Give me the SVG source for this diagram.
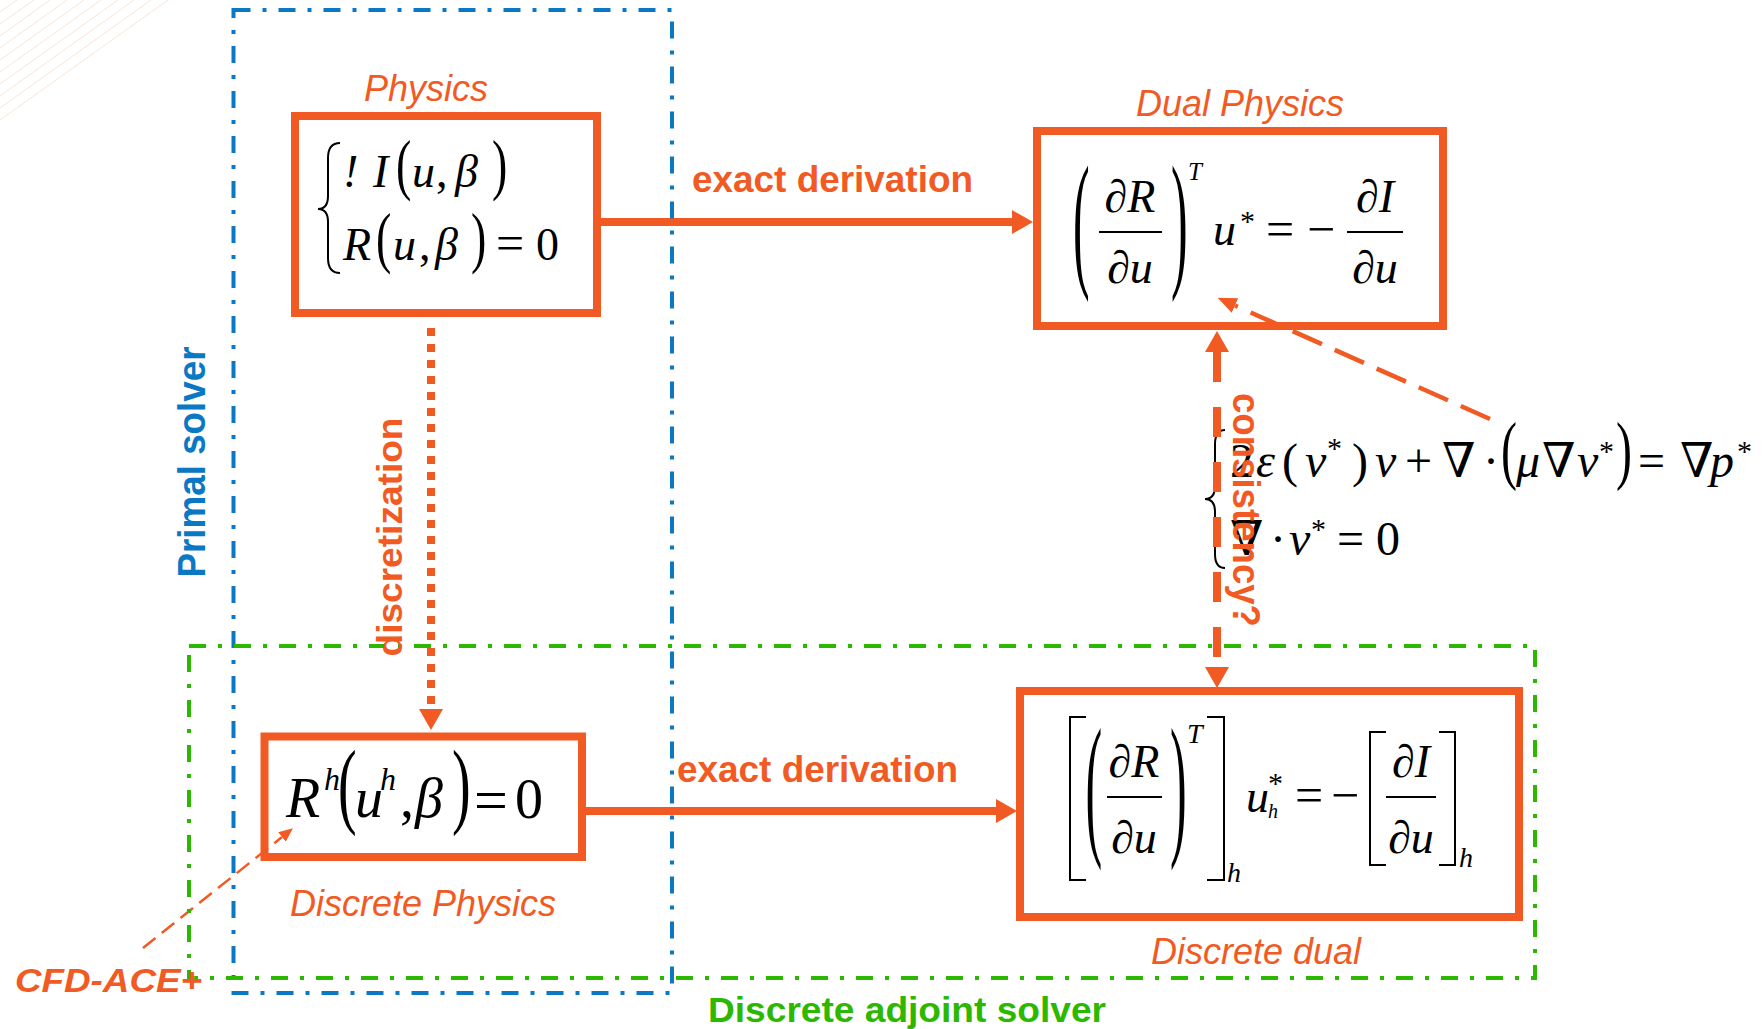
<svg xmlns="http://www.w3.org/2000/svg" width="1762" height="1029" viewBox="0 0 1762 1029">
<style>
.box{fill:#fff;stroke:#F15A22;stroke-width:8}
.lbl{font-family:"Liberation Sans",Arial,sans-serif;font-style:italic;font-size:36px;fill:#F15A22}
.bold{font-family:"Liberation Sans",Arial,sans-serif;font-weight:bold;fill:#F15A22}
.m{font-family:"Liberation Serif","Times New Roman","DejaVu Serif",serif;fill:#000}
.i{font-style:italic}
.dl{fill:none;stroke:#000;stroke-width:2}
.fr{stroke:#000;stroke-width:2}
.blue{fill:none;stroke:#0A78C2;stroke-width:4;stroke-dasharray:17 12 4 12}
.green{fill:none;stroke:#2DB800;stroke-width:4;stroke-dasharray:17 12 4 12}
.con{fill:none;stroke:#F15A22}
.stripe{stroke:#FBE3D6;stroke-width:1}
</style>
<defs>
<marker id="ah" markerUnits="userSpaceOnUse" markerWidth="21" markerHeight="24" viewBox="0 0 21 24" refX="0" refY="12" orient="auto-start-reverse"><path d="M0,0 L21,12 L0,24 Z" fill="#F15A22"/></marker>
<marker id="ahm" markerUnits="userSpaceOnUse" markerWidth="19" markerHeight="16" viewBox="0 0 19 16" refX="0" refY="8" orient="auto"><path d="M0,0 L19,8 L0,16 Z" fill="#F15A22"/></marker>
<marker id="ahs" markerUnits="userSpaceOnUse" markerWidth="14" markerHeight="12" viewBox="0 0 14 12" refX="0" refY="6" orient="auto"><path d="M0,0 L14,6 L0,12 Z" fill="#F15A22"/></marker>
</defs>
<rect width="1762" height="1029" fill="#fff"/>
<g id="stripes">
<line class="stripe" x1="0" y1="12" x2="17" y2="0"/>
<line class="stripe" x1="0" y1="24" x2="34" y2="0"/>
<line class="stripe" x1="0" y1="36" x2="50" y2="0"/>
<line class="stripe" x1="0" y1="48" x2="67" y2="0"/>
<line class="stripe" x1="0" y1="60" x2="84" y2="0"/>
<line class="stripe" x1="0" y1="72" x2="101" y2="0"/>
<line class="stripe" x1="0" y1="84" x2="118" y2="0"/>
<line class="stripe" x1="0" y1="96" x2="134" y2="0"/>
<line class="stripe" x1="0" y1="108" x2="151" y2="0"/>
<line class="stripe" x1="0" y1="120" x2="168" y2="0"/>
</g>
<g id="physics">
<rect class="box" x="295" y="116" width="302" height="197"/>
<text class="lbl" x="426" y="101" text-anchor="middle">Physics</text>
<path class="dl" d="M340,143 Q328,143 328,158 L328,196 Q328,209 318,209 Q328,209 328,222 L328,258 Q328,273 340,273"/>
<g class="m" font-size="46">
<text class="i" x="343" y="187">!</text>
<text class="i" x="373" y="187">I</text>
<text transform="translate(396 187) scale(1 1.46)">(</text>
<text class="i" x="412" y="187">u</text>
<text x="436" y="187">,</text>
<text class="i" x="455" y="187">β</text>
<text transform="translate(492 187) scale(1 1.46)">)</text>
<text class="i" x="343" y="260">R</text>
<text transform="translate(376 260) scale(1 1.46)">(</text>
<text class="i" x="393" y="260">u</text>
<text x="419" y="260">,</text>
<text class="i" x="435" y="260">β</text>
<text transform="translate(471 260) scale(1 1.46)">)</text>
<text x="496" y="260" font-size="50">=</text>
<text x="536" y="260">0</text>
</g>
</g>
<g id="dual-physics">
<rect class="box" x="1037" y="131" width="406" height="195"/>
<text class="lbl" x="1240" y="116" text-anchor="middle">Dual Physics</text>
<g class="m" font-size="46">
<text font-size="50" transform="translate(1073 270) scale(1 3.02)">(</text>
<text class="i" x="1130" y="212" text-anchor="middle">∂R</text>
<line class="fr" x1="1099" y1="232" x2="1162" y2="232"/>
<text class="i" x="1130" y="283" text-anchor="middle">∂u</text>
<text font-size="50" transform="translate(1171 270) scale(1 3.02)">)</text>
<text class="i" x="1188" y="180" font-size="25">T</text>
<text class="i" x="1213" y="245">u</text>
<text x="1240" y="231" font-size="30">*</text>
<text x="1266" y="246" font-size="50">=</text>
<text x="1307" y="246" font-size="50">−</text>
<text class="i" x="1375" y="212" text-anchor="middle">∂I</text>
<line class="fr" x1="1347" y1="232" x2="1403" y2="232"/>
<text class="i" x="1375" y="283" text-anchor="middle">∂u</text>
</g>
</g>
<g id="discrete-physics">
<rect class="box" x="264.5" y="736.5" width="317.5" height="120.5"/>
<text class="lbl" x="423" y="916" text-anchor="middle">Discrete Physics</text>
<g class="m" font-size="56">
<text class="i" x="286" y="817">R</text>
<text class="i" x="324" y="790" font-size="32">h</text>
<text transform="translate(338 816) scale(1 1.7)">(</text>
<text class="i" x="355" y="817">u</text>
<text class="i" x="380" y="790" font-size="32">h</text>
<text x="400" y="817">,</text>
<text class="i" x="415" y="817">β</text>
<text transform="translate(452 816) scale(1 1.7)">)</text>
<text x="474" y="820" font-size="60">=</text>
<text x="515" y="818">0</text>
</g>
</g>
<g id="discrete-dual">
<rect class="box" x="1020" y="691" width="499" height="226"/>
<text class="lbl" x="1256" y="964" text-anchor="middle">Discrete dual</text>
<path class="dl" d="M1086,717 L1070,717 L1070,880 L1086,880"/>
<path class="dl" d="M1207,717 L1224,717 L1224,880 L1207,880"/>
<path class="dl" d="M1386,732 L1370,732 L1370,865 L1386,865"/>
<path class="dl" d="M1439,732 L1455,732 L1455,865 L1439,865"/>
<g class="m" font-size="46">
<text font-size="50" transform="translate(1085.5 837) scale(1 3.12)">(</text>
<text class="i" x="1134" y="777" text-anchor="middle">∂R</text>
<line class="fr" x1="1107" y1="797" x2="1162" y2="797"/>
<text class="i" x="1134" y="853" text-anchor="middle">∂u</text>
<text font-size="50" transform="translate(1170 837) scale(1 3.12)">)</text>
<text class="i" x="1187" y="743" font-size="28">T</text>
<text class="i" x="1227" y="882" font-size="28">h</text>
<text class="i" x="1246" y="812">u</text>
<text x="1268" y="793" font-size="30">*</text>
<text class="i" x="1268" y="818" font-size="20">h</text>
<text x="1295" y="812" font-size="50">=</text>
<text x="1331" y="812" font-size="50">−</text>
<text class="i" x="1411" y="777" text-anchor="middle">∂I</text>
<line class="fr" x1="1386" y1="797" x2="1436" y2="797"/>
<text class="i" x="1411" y="853" text-anchor="middle">∂u</text>
<text class="i" x="1459" y="867" font-size="28">h</text>
</g>
</g>
<g id="stokes-adjoint">
<path class="dl" d="M1225,430 Q1215,430 1215,444 L1215,486 Q1215,499 1205,499 Q1215,499 1215,512 L1215,554 Q1215,568 1225,568"/>
<g class="m" font-size="48">
<text x="1230" y="477">2</text>
<text class="i" x="1256" y="477">ε</text>
<text x="1282" y="477">(</text>
<text class="i" x="1305" y="477">v</text>
<text x="1327" y="458" font-size="30">*</text>
<text x="1352" y="477">)</text>
<text class="i" x="1375" y="477">v</text>
<text x="1405" y="477">+</text>
<text x="1442" y="477">∇</text>
<text x="1483" y="477">·</text>
<text transform="translate(1501 474.5) scale(1 1.59)">(</text>
<text class="i" x="1516" y="477">μ</text>
<text x="1542" y="477">∇</text>
<text class="i" x="1577" y="477">v</text>
<text x="1599" y="461" font-size="30">*</text>
<text transform="translate(1616 474.5) scale(1 1.59)">)</text>
<text x="1638" y="477">=</text>
<text x="1680" y="477">∇</text>
<text class="i" x="1710" y="477">p</text>
<text x="1737" y="461" font-size="30">*</text>
<text x="1230" y="555">∇</text>
<text x="1270" y="555">·</text>
<text class="i" x="1289" y="555">v</text>
<text x="1311" y="539" font-size="30">*</text>
<text x="1337" y="555">=</text>
<text x="1376" y="555">0</text>
</g>
</g>
<g id="connectors">
<line class="con" x1="601" y1="222" x2="1012" y2="222" stroke-width="8" marker-end="url(#ah)"/>
<line class="con" x1="586" y1="811" x2="996" y2="811" stroke-width="8" marker-end="url(#ah)"/>
<line class="con" x1="431" y1="328" x2="431" y2="709" stroke-width="8" stroke-dasharray="8 8" marker-end="url(#ah)"/>
<line class="con" x1="1217" y1="352" x2="1217" y2="667" stroke-width="8" stroke-dasharray="30 25" marker-start="url(#ah)" marker-end="url(#ah)"/>
<line class="con" x1="1490" y1="419" x2="1235" y2="305.5" stroke-width="4.5" stroke-dasharray="32 14" marker-end="url(#ahm)"/>
<line class="con" x1="143" y1="948" x2="282" y2="837" stroke-width="2.5" stroke-dasharray="16 8" marker-end="url(#ahs)"/>
</g>
<g id="regions">
<rect class="blue" x="233.5" y="10" width="438.5" height="983"/>
<rect class="green" x="189" y="646" width="1346" height="332"/>
</g>
<g id="labels">
<text class="bold" x="692" y="192" font-size="36" textLength="281" lengthAdjust="spacingAndGlyphs">exact derivation</text>
<text class="bold" x="677" y="782" font-size="36" textLength="281" lengthAdjust="spacingAndGlyphs">exact derivation</text>
<text class="bold" font-size="35" text-anchor="middle" textLength="239" lengthAdjust="spacingAndGlyphs" transform="translate(402 537) rotate(-90)">discretization</text>
<text class="bold" font-size="38" text-anchor="middle" textLength="234" lengthAdjust="spacingAndGlyphs" transform="translate(1233 510) rotate(90)">consistency?</text>
<text class="bold" font-size="38" style="fill:#0A78C2" text-anchor="middle" textLength="231" lengthAdjust="spacingAndGlyphs" transform="translate(205 462) rotate(-90)">Primal solver</text>
<text class="bold" x="15" y="992" font-size="34" font-style="italic" textLength="187" lengthAdjust="spacingAndGlyphs">CFD-ACE+</text>
<text class="bold" x="708" y="1022" font-size="35" style="fill:#2DB800" textLength="398" lengthAdjust="spacingAndGlyphs">Discrete adjoint solver</text>
</g>
</svg>
